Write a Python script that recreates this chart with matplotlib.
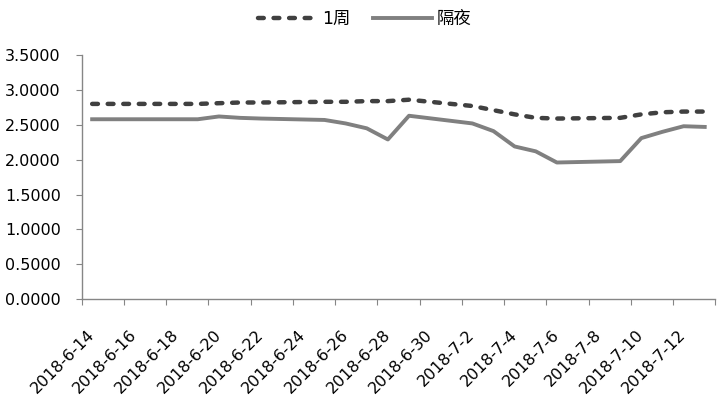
import matplotlib
matplotlib.use('Agg')
import matplotlib.pyplot as plt
import pandas as pd

# business days shown in the chart
dates = ['2018-06-14', '2018-06-15', '2018-06-19', '2018-06-20', '2018-06-21',
         '2018-06-22', '2018-06-25', '2018-06-26', '2018-06-27', '2018-06-28',
         '2018-06-29', '2018-07-02', '2018-07-03', '2018-07-04', '2018-07-05',
         '2018-07-06', '2018-07-09', '2018-07-10', '2018-07-11', '2018-07-12',
         '2018-07-13']

week_rate = [2.80, 2.80, 2.80, 2.81, 2.82, 2.82, 2.83, 2.83, 2.84, 2.84,
             2.86, 2.77, 2.71, 2.65, 2.60, 2.59, 2.60, 2.65, 2.68, 2.69, 2.69]

overnight_rate = [2.58, 2.58, 2.58, 2.62, 2.60, 2.59, 2.57, 2.52, 2.45, 2.29,
                  2.63, 2.52, 2.41, 2.19, 2.12, 1.96, 1.98, 2.31, 2.40, 2.48, 2.47]

y_ticks = [0.0, 0.5, 1.0, 1.5, 2.0, 2.5, 3.0, 3.5]

plt.rcParams['font.family'] = ['DejaVu Sans', 'Noto Sans CJK SC']

# excel date axis puts each point in the middle of its day
x = pd.to_datetime(dates) + pd.Timedelta(hours=12)

fig = plt.figure(figsize=(7.22, 3.99), dpi=100)
ax = fig.add_axes([0.113, 0.25, 0.8777, 0.612])

ax.plot(x, week_rate, color='#404040', lw=3.2, ls=(0, (1.3, 2.2)),
        dash_capstyle='round', label='1周')
ax.plot(x, overnight_rate, color='#808080', lw=2.8, label='隔夜')

bounds = pd.date_range('2018-06-14', '2018-07-14', freq='2D')
ax.set_xlim(bounds[0], bounds[-1])
ax.set_xticks(bounds)
ax.set_xticklabels([])
ax.set_xticks(bounds[:-1] + pd.Timedelta(hours=12), minor=True)
ax.set_xticklabels(['%d-%d-%d' % (d.year, d.month, d.day) for d in bounds[:-1]],
                   minor=True, rotation=45, ha='right', va='center',
                   rotation_mode='anchor', fontsize=11.5)
ax.tick_params(axis='x', which='major', length=4, color='#868686', direction='out')
ax.tick_params(axis='x', which='minor', length=0, pad=24)

ax.set_ylim(0, 3.5)
ax.set_yticks(y_ticks)
ax.set_yticklabels(['%.4f' % v for v in y_ticks], fontsize=11.5)
ax.tick_params(axis='y', length=4, color='#868686', pad=11)

for s in ['top', 'right']:
    ax.spines[s].set_visible(False)
for s in ['left', 'bottom']:
    ax.spines[s].set_color('#868686')
    ax.spines[s].set_linewidth(1)

fig.legend(loc='upper center', bbox_to_anchor=(0.505, 1.015), ncol=2,
           frameon=False, fontsize=12.5, handlelength=3.4, columnspacing=1.3,
           handletextpad=0.3)

fig.savefig('out.png', dpi=100)
